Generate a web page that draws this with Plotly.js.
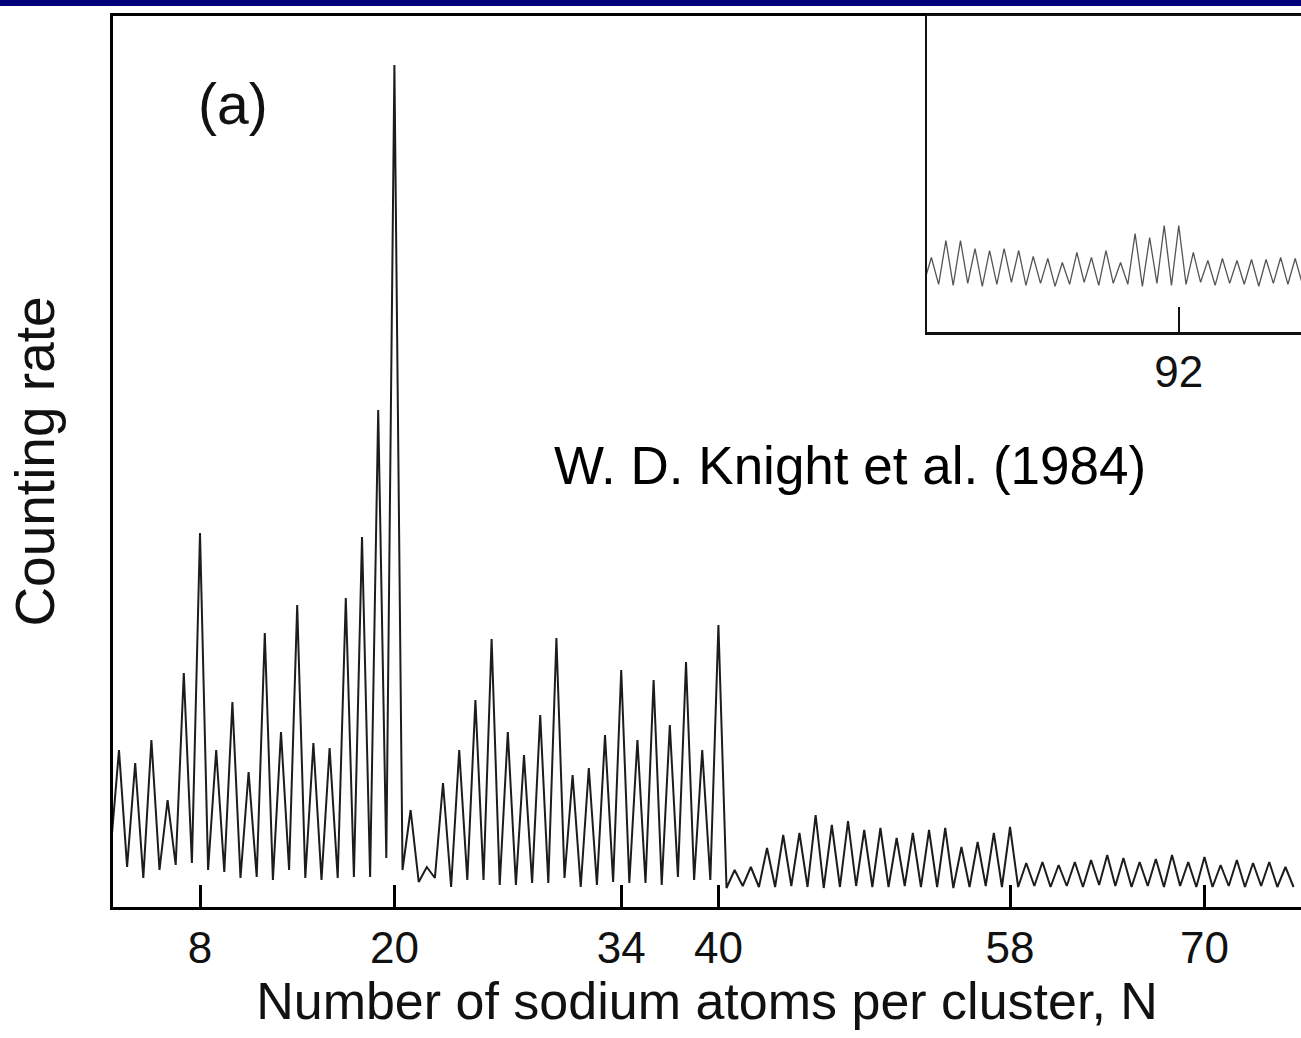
<!DOCTYPE html>
<html>
<head>
<meta charset="utf-8">
<script src="https://cdn.plot.ly/plotly-3.0.1.min.js"></script>
<style>
  html, body { margin: 0; padding: 0; background: #ffffff; }
  #chart { width: 1301px; height: 1038px; }
</style>
</head>
<body>
<div id="chart"></div>
<script>
// ---- Main spectrum: cluster size N, peak counting rate, valley before each peak (arb. units)
const mainN = [3, 4, 5, 6, 7, 8, 9, 10, 11, 12, 13, 14, 15, 16, 17, 18, 19, 20,
  21, 22, 23, 24, 25, 26, 27, 28, 29, 30, 31, 32, 33, 34, 35, 36, 37, 38, 39, 40,
  41, 42, 43, 44, 45, 46, 47, 48, 49, 50, 51, 52, 53, 54, 55, 56, 57, 58,
  59, 60, 61, 62, 63, 64, 65, 66, 67, 68, 69, 70, 71, 72, 73, 74, 75];
const mainPeak = [157, 144, 167, 107, 234, 374, 157, 205, 135, 274, 175, 302, 164, 159, 309, 370, 497, 842,
  97, 40, 124, 157, 207, 268, 175, 152, 192, 269, 132, 139, 172, 237, 167, 227, 182, 245, 157, 282,
  37, 40, 59, 72, 74, 92, 82, 86, 77, 79, 69, 74, 77, 79, 60, 65, 74, 80,
  44, 45, 42, 45, 47, 52, 49, 45, 48, 52, 45, 50, 42, 47, 44, 45, 40];
const mainValley = [60, 40, 29, 37, 42, 44, 37, 35, 29, 30, 27, 37, 29, 27, 29, 30, 30, 49,
  37, 25, 29, 20, 27, 27, 22, 22, 24, 24, 29, 20, 22, 25, 24, 24, 22, 30, 27, 27,
  19, 21, 20, 20, 21, 20, 19, 20, 21, 20, 20, 21, 20, 20, 19, 20, 21, 20,
  20, 21, 20, 21, 20, 22, 21, 20, 21, 20, 21, 20, 20, 21, 20, 21, 20];

// ---- Inset spectrum (larger clusters)
const insetN = [75, 76, 77, 78, 79, 80, 81, 82, 83, 84, 85, 86, 87, 88, 89, 90, 91, 92,
  93, 94, 95, 96, 97, 98, 99, 100];
const insetPeak = [75, 92, 92, 84, 82, 84, 82, 76, 74, 70, 80, 75, 82, 70, 99, 95, 107, 107,
  80, 72, 74, 72, 73, 73, 75, 74];
const insetValley = [50, 48, 47, 49, 46, 48, 50, 47, 49, 46, 48, 50, 47, 49, 48, 46, 49, 47,
  48, 50, 47, 49, 48, 46, 49, 48];

// ---- Tick labels
const mainTicks = [8, 20, 34, 40, 58, 70];
const insetTicks = [92];

function buildTrace(ns, peaks, valleys) {
  const x = [], y = [];
  for (let i = 0; i < ns.length; i++) {
    x.push(ns[i] - 0.5); y.push(valleys[i]);
    x.push(ns[i]); y.push(peaks[i]);
  }
  x.push(ns[ns.length - 1] + 0.5); y.push(valleys[valleys.length - 1]);
  return { x, y };
}

const m = buildTrace(mainN, mainPeak, mainValley);
const s = buildTrace(insetN, insetPeak, insetValley);

const FONT = 'Liberation Sans, Arial, Helvetica, sans-serif';

const data = [
  { type: 'scatter', mode: 'lines', x: m.x, y: m.y, xaxis: 'x', yaxis: 'y',
    line: { color: '#1c1c1c', width: 2 }, hoverinfo: 'skip', showlegend: false },
  { type: 'scatter', mode: 'lines', x: s.x, y: s.y, xaxis: 'x2', yaxis: 'y2',
    line: { color: '#555555', width: 1.3 }, hoverinfo: 'skip', showlegend: false }
];

const insetBottom = (907 - 332) / 891;

const layout = {
  width: 1301, height: 1038,
  margin: { l: 113, r: 0, t: 16, b: 131, pad: 0 },
  paper_bgcolor: '#ffffff', plot_bgcolor: '#ffffff',
  showlegend: false,
  font: { family: FONT, color: '#000000' },
  xaxis: {
    domain: [0, 1], range: [2.63, 75.96],
    showline: true, linecolor: '#000000', linewidth: 3, mirror: true,
    showgrid: false, zeroline: false,
    tickmode: 'array', tickvals: mainTicks, ticktext: mainTicks.map(String),
    ticks: 'inside', ticklen: 22, tickwidth: 3, tickcolor: '#000000',
    tickfont: { family: FONT, size: 44, color: '#111111' },
    title: { text: 'Number of sodium atoms per cluster, N', font: { family: FONT, size: 52, color: '#111111' }, standoff: 6 }
  },
  yaxis: {
    domain: [0, 1], range: [0, 891],
    showline: true, linecolor: '#000000', linewidth: 3,
    showgrid: false, zeroline: false, showticklabels: false, ticks: '',
    title: { text: 'Counting rate', font: { family: FONT, size: 55, color: '#111111' }, standoff: 38 }
  },
  xaxis2: {
    domain: [(927 - 113) / 1188, 1], anchor: 'y2', range: [74.7, 100.4],
    showline: true, linecolor: '#111111', linewidth: 2.5, mirror: true,
    showgrid: false, zeroline: false,
    tickmode: 'array', tickvals: insetTicks, ticktext: insetTicks.map(String),
    ticks: 'inside', ticklen: 25, tickwidth: 2, tickcolor: '#111111',
    tickfont: { family: FONT, size: 44, color: '#111111' }
  },
  yaxis2: {
    domain: [insetBottom, 1], anchor: 'x2', range: [0, 318],
    showline: true, linecolor: '#111111', linewidth: 2.5,
    showgrid: false, zeroline: false, showticklabels: false, ticks: ''
  },
  shapes: [
    { type: 'rect', xref: 'paper', yref: 'paper',
      x0: -113 / 1188, x1: 1.01, y0: (907 - 6) / 891, y1: (907 + 2) / 891,
      fillcolor: '#000078', line: { width: 0 }, layer: 'above' }
  ],
  annotations: [
    { text: '(a)', xref: 'paper', yref: 'paper', x: (233 - 113) / 1188, y: (907 - 104) / 891,
      xanchor: 'center', yanchor: 'middle', showarrow: false,
      font: { family: FONT, size: 57, color: '#111111' } },
    { text: 'W. D. Knight et al. (1984)', xref: 'paper', yref: 'paper',
      x: (850 - 113) / 1188, y: (907 - 466) / 891,
      xanchor: 'center', yanchor: 'middle', showarrow: false,
      font: { family: FONT, size: 53, color: '#000000' } }
  ]
};

Plotly.newPlot('chart', data, layout, { staticPlot: true, displayModeBar: false });
</script>
</body>
</html>
